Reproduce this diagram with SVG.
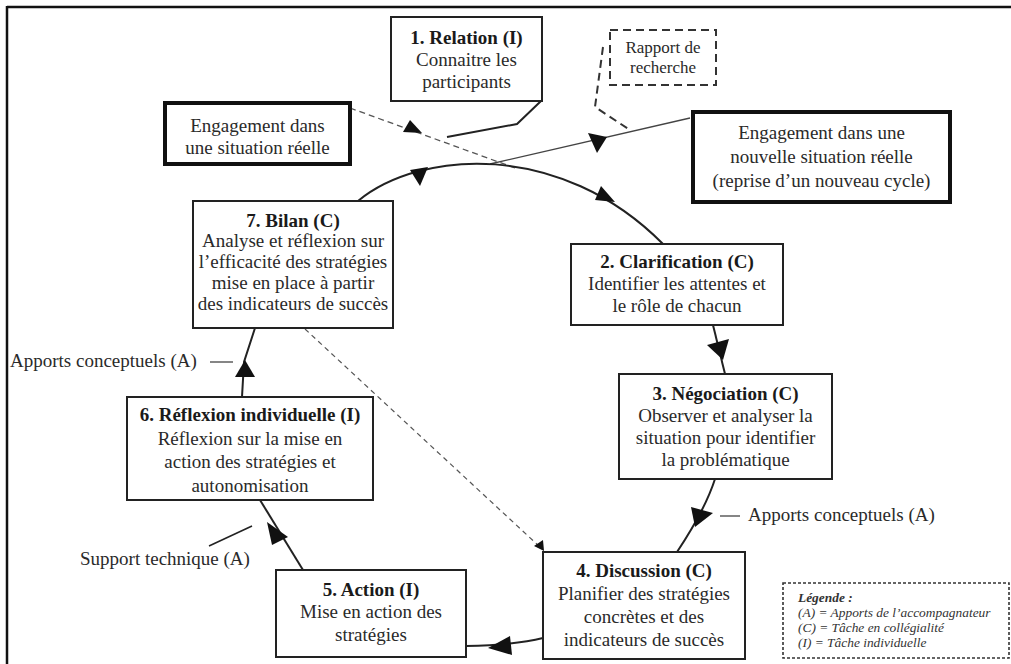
<svg xmlns="http://www.w3.org/2000/svg" width="1011" height="664" viewBox="0 0 1011 664">
<style>
.t{font-family:"Liberation Serif","Times New Roman",serif;font-size:19px;fill:#2a2a2a;text-anchor:middle}
.b{font-weight:bold;fill:#1a1a1a}
.box{fill:#fff;stroke:#222;stroke-width:2}
.thick{fill:#fff;stroke:#111;stroke-width:4}
.ln{fill:none;stroke:#222;stroke-width:2}
.thin{fill:none;stroke:#444;stroke-width:1.3}
.dsh{fill:none;stroke:#555;stroke-width:1.3;stroke-dasharray:6 4}
.ah{fill:#111}
.lg{font-family:"Liberation Serif","Times New Roman",serif;font-size:13.4px;font-style:italic;fill:#333}
</style>
<rect width="1011" height="664" fill="#fff"/>
<g id="frame">
<line x1="7" y1="7" x2="1011" y2="7" stroke="#111" stroke-width="2.5"/>
<line x1="7" y1="6" x2="7" y2="664" stroke="#111" stroke-width="2.5"/>
</g>
<g id="connectors">
<path class="dsh" d="M350,108 L515,168"/>
<path class="thin" d="M690,118 L490,164"/>
<path class="ln" d="M358,201 C420,150 560,140 663,244"/>
<path class="ln" d="M713,325 L725,374"/>
<path class="ln" d="M715,479 Q705,510 677,552"/>
<path class="dsh" d="M305,329 L541,548" style="stroke-dasharray:5 4;stroke-width:1.2"/>
<path class="ln" d="M543,638 Q515,645 466,646"/>
<path class="ln" d="M303,570 L260,500"/>
<path class="ln" d="M242,397 L244,362 L255,328"/>
<path class="ln" d="M541,101 L517,124 L447,137"/>
<path fill="none" stroke="#333" stroke-width="2" stroke-dasharray="8 5" d="M603,47 L595,107 L630,130"/>
<path class="thin" d="M210,362 L233,362"/>
<path class="thin" d="M720,516 L740,516"/>
<path class="ln" d="M209,546 L252,526" style="stroke-width:1.6"/>
<polygon class="ah" points="410,120 403,132 422,133"/>
<polygon class="ah" points="588,133 607,137 597,153"/>
<polygon class="ah" points="410,170 428,167 420,186"/>
<polygon class="ah" points="601,186 615,202 595,200"/>
<polygon class="ah" points="707,345 729,339 723,360"/>
<polygon class="ah" points="691,507 713,513 695,527"/>
<polygon class="ah" points="534,546 543,540 544,551"/>
<polygon class="ah" points="488,648 510,636 512,655"/>
<polygon class="ah" points="267,522 288,537 272,545"/>
<polygon class="ah" points="245,360 235,377 255,377"/>
</g>
<g id="n1">
<rect class="box" x="391" y="17" width="151" height="84"/>
<text class="t b" x="466.5" y="44">1. Relation (I)</text>
<text class="t" x="466.5" y="66">Connaitre les</text>
<text class="t" x="466.5" y="88">participants</text>
</g>
<g id="engagement">
<rect class="thick" x="165" y="103" width="185" height="61"/>
<text class="t" x="257.5" y="132">Engagement dans</text>
<text class="t" x="257.5" y="154">une situation réelle</text>
</g>
<g id="rapport">
<rect x="610" y="30" width="106" height="55" fill="#fff" stroke="#333" stroke-width="2" stroke-dasharray="8 5"/>
<text class="t" x="663" y="53" style="font-size:17px">Rapport de</text>
<text class="t" x="663" y="73" style="font-size:17px">recherche</text>
</g>
<g id="nouvelle">
<rect class="thick" x="693" y="112" width="257" height="90"/>
<text class="t" x="821.5" y="139">Engagement dans une</text>
<text class="t" x="821.5" y="163">nouvelle situation réelle</text>
<text class="t" x="821.5" y="187">(reprise d’un nouveau cycle)</text>
</g>
<g id="n7">
<rect class="box" x="193" y="201" width="200" height="127"/>
<text class="t b" x="293" y="227">7. Bilan (C)</text>
<text class="t" x="293" y="247">Analyse et réflexion sur</text>
<text class="t" x="293" y="268">l’efficacité des stratégies</text>
<text class="t" x="293" y="289">mise en place à partir</text>
<text class="t" x="293" y="310">des indicateurs de succès</text>
</g>
<g id="n2">
<rect class="box" x="571" y="244" width="212" height="81"/>
<text class="t b" x="677" y="268">2. Clarification (C)</text>
<text class="t" x="677" y="290">Identifier les attentes et</text>
<text class="t" x="677" y="312">le rôle de chacun</text>
</g>
<g id="n3">
<rect class="box" x="619" y="374" width="213" height="105"/>
<text class="t b" x="725.5" y="400">3. Négociation (C)</text>
<text class="t" x="725.5" y="422">Observer et analyser la</text>
<text class="t" x="725.5" y="444">situation pour identifier</text>
<text class="t" x="725.5" y="466">la problématique</text>
</g>
<g id="n4">
<rect class="box" x="543" y="552" width="202" height="107"/>
<text class="t b" x="644" y="577">4. Discussion (C)</text>
<text class="t" x="644" y="600">Planifier des stratégies</text>
<text class="t" x="644" y="623">concrètes et des</text>
<text class="t" x="644" y="646">indicateurs de succès</text>
</g>
<g id="n5">
<rect class="box" x="276" y="570" width="190" height="87"/>
<text class="t b" x="371" y="596">5. Action (I)</text>
<text class="t" x="371" y="618">Mise en action des</text>
<text class="t" x="371" y="641">stratégies</text>
</g>
<g id="n6">
<rect class="box" x="127" y="397" width="246" height="103"/>
<text class="t b" x="250" y="421">6. Réflexion individuelle (I)</text>
<text class="t" x="250" y="445">Réflexion sur la mise en</text>
<text class="t" x="250" y="468">action des stratégies et</text>
<text class="t" x="250" y="492">autonomisation</text>
</g>
<g id="labels">
<text class="t" x="10" y="367" style="text-anchor:start">Apports conceptuels (A)</text>
<text class="t" x="748" y="521" style="text-anchor:start">Apports conceptuels (A)</text>
<text class="t" x="80" y="565" style="text-anchor:start">Support technique (A)</text>
</g>
<g id="legend">
<rect x="783" y="583" width="226" height="75" fill="#fff" stroke="#333" stroke-width="1.6" stroke-dasharray="3 2"/>
<text class="lg" x="798" y="602" style="font-weight:bold">Légende :</text>
<text class="lg" x="798" y="617">(A) = Apports de l’accompagnateur</text>
<text class="lg" x="798" y="632">(C) = Tâche en collégialité</text>
<text class="lg" x="798" y="647">(I) = Tâche individuelle</text>
</g>
</svg>
